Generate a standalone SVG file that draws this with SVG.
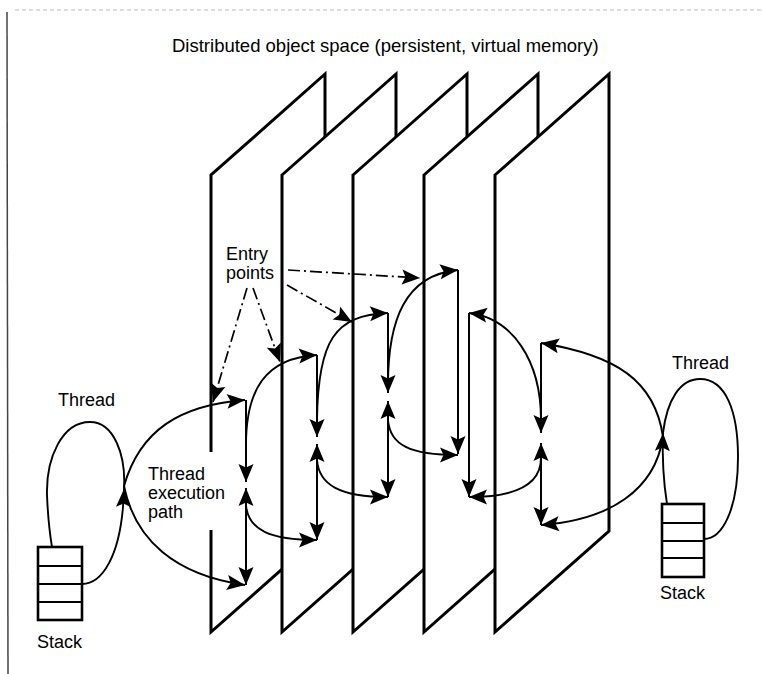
<svg xmlns="http://www.w3.org/2000/svg" width="763" height="674" viewBox="0 0 763 674">
  <style>
    .plane-fill { fill: #fff; stroke: none; }
    .plane { fill: none; stroke: #000; stroke-width: 3; stroke-linejoin: miter; }
    .lbl { font-family: "Liberation Sans", Arial, Helvetica, sans-serif; font-size: 18px; fill: #000; }
    .conn { fill: none; stroke: #000; stroke-width: 1.9; }
    .vert { fill: none; stroke: #000; stroke-width: 2; }
    .entry { fill: none; stroke: #000; stroke-width: 1.7; stroke-dasharray: 12 4 2 4; }
    .stack { fill: #fff; stroke: #000; stroke-width: 2.6; }
    .row { stroke: #000; stroke-width: 2.2; }
  </style>
  <defs>
    <marker id="ah" markerUnits="userSpaceOnUse" markerWidth="21" markerHeight="18" viewBox="-20 -9 21 18" refX="0" refY="0" orient="auto-start-reverse">
      <path d="M0,0 L-18,-7.5 L-14.5,0 L-18,7.5 Z" fill="#000"/>
    </marker>
  </defs>

  <rect x="0" y="0" width="763" height="674" fill="#fff"/>
  <g id="page-border">
    <line x1="15" y1="10" x2="763" y2="10" stroke="#bbb" stroke-width="1" stroke-dasharray="4 3"/>
    <line x1="7" y1="12" x2="8" y2="674" stroke="#444" stroke-width="1.5"/>
  </g>

  <text id="title" class="lbl" x="172" y="52" style="font-size:18.5px">Distributed object space (persistent, virtual memory)</text>

  <g id="plane1">
    <polygon class="plane-fill" points="211,175 325,74 325,531 211,632"/>
    <path class="plane" d="M211,452 L211,175 L325,74 L325,531 L211,632 L211,530"/>
  </g>
  <g id="plane2">
    <polygon class="plane-fill" points="282,175 396,74 396,531 282,632"/>
    <polygon class="plane" points="282,175 396,74 396,531 282,632"/>
  </g>
  <g id="plane3">
    <polygon class="plane-fill" points="353,175 467,74 467,531 353,632"/>
    <polygon class="plane" points="353,175 467,74 467,531 353,632"/>
  </g>
  <g id="plane4">
    <polygon class="plane-fill" points="424,175 538,74 538,531 424,632"/>
    <polygon class="plane" points="424,175 538,74 538,531 424,632"/>
  </g>
  <g id="plane5">
    <polygon class="plane-fill" points="495,175 609,74 609,531 495,632"/>
    <polygon class="plane" points="495,175 609,74 609,531 495,632"/>
  </g>

  <g id="entry-points-label">
    <text class="lbl" x="226" y="260">Entry</text>
    <text class="lbl" x="226" y="279">points</text>
  </g>
  <g id="exec-path-label">
    <text class="lbl" x="148" y="480">Thread</text>
    <text class="lbl" x="148" y="499">execution</text>
    <text class="lbl" x="148" y="518">path</text>
  </g>

  <g id="left-thread">
    <text class="lbl" x="58" y="406">Thread</text>
  </g>
  <g id="left-stack">
    <rect class="stack" x="38" y="547" width="44" height="73"/>
    <line class="row" x1="38" y1="566" x2="82" y2="566"/>
    <line class="row" x1="38" y1="584" x2="82" y2="584"/>
    <line class="row" x1="38" y1="602" x2="82" y2="602"/>
    <text class="lbl" x="37" y="648">Stack</text>
  </g>

  <g id="right-thread">
    <text class="lbl" x="672" y="369">Thread</text>
  </g>
  <g id="right-stack">
    <rect class="stack" x="662" y="504" width="42" height="73"/>
    <line class="row" x1="662" y1="523" x2="704" y2="523"/>
    <line class="row" x1="662" y1="541" x2="704" y2="541"/>
    <line class="row" x1="662" y1="558" x2="704" y2="558"/>
    <text class="lbl" x="660" y="599">Stack</text>
  </g>

  <g id="connectors">
    <!-- left thread loop and lens -->
    <path class="conn" d="M82,584 C100,584 122,560 124,489" marker-end="url(#ah)"/>
    <path class="conn" d="M124,489 C126,455 114,422 90,422 C62,422 46,458 47,495 C48,520 50,535 52,547"/>
    <path class="conn" d="M124,486 C140,430 180,405 245,400" marker-end="url(#ah)"/>
    <path class="conn" d="M124,486 C135,540 175,575 245,585" marker-end="url(#ah)"/>

    <!-- right thread loop and lens -->
    <path class="conn" d="M667,504 C664,485 662,460 663,433" marker-end="url(#ah)"/>
    <path class="conn" d="M663,433 C667,400 680,379 700,379 C726,379 738,412 738,457 C738,510 722,539 704,539"/>
    <path class="conn" d="M663,437 C655,380 615,355 541,343" marker-end="url(#ah)"/>
    <path class="conn" d="M663,437 C655,490 610,520 541,525" marker-end="url(#ah)"/>

    <!-- vertical object lines -->
    <path class="vert" d="M246,400 V482" marker-end="url(#ah)"/>
    <path class="vert" d="M246,488 V585" marker-start="url(#ah)" marker-end="url(#ah)"/>
    <path class="vert" d="M317,355 V437" marker-end="url(#ah)"/>
    <path class="vert" d="M317,444 V540" marker-start="url(#ah)" marker-end="url(#ah)"/>
    <path class="vert" d="M388,313 V393" marker-end="url(#ah)"/>
    <path class="vert" d="M388,401 V497" marker-start="url(#ah)" marker-end="url(#ah)"/>
    <path class="vert" d="M458,270 V454" marker-end="url(#ah)"/>
    <path class="vert" d="M469,313 V497" marker-end="url(#ah)"/>
    <path class="vert" d="M541,343 V433" marker-end="url(#ah)"/>
    <path class="vert" d="M541,443 V525" marker-start="url(#ah)" marker-end="url(#ah)"/>

    <!-- calls and returns between objects -->
    <path class="conn" d="M246,445 C246,390 265,358 317,355" marker-end="url(#ah)"/>
    <path class="conn" d="M246,505 C248,530 270,540 317,540" marker-end="url(#ah)"/>
    <path class="conn" d="M317,420 C318,340 335,315 388,313" marker-end="url(#ah)"/>
    <path class="conn" d="M317,460 C319,485 340,497 388,497" marker-end="url(#ah)"/>
    <path class="conn" d="M388,385 C388,320 405,275 458,270" marker-end="url(#ah)"/>
    <path class="conn" d="M388,420 C390,445 410,455 458,455" marker-end="url(#ah)"/>
    <path class="conn" d="M541,420 C541,360 512,318 469,313" marker-end="url(#ah)"/>
    <path class="conn" d="M541,458 C541,485 515,497 469,497" marker-end="url(#ah)"/>

    <!-- entry point pointers -->
    <path class="entry" d="M288,270 L420,278" marker-end="url(#ah)"/>
    <path class="entry" d="M287,285 L352,322" marker-end="url(#ah)"/>
    <path class="entry" d="M247,288 L213,402" marker-end="url(#ah)"/>
    <path class="entry" d="M253,288 L280,362" marker-end="url(#ah)"/>
  </g>
</svg>
